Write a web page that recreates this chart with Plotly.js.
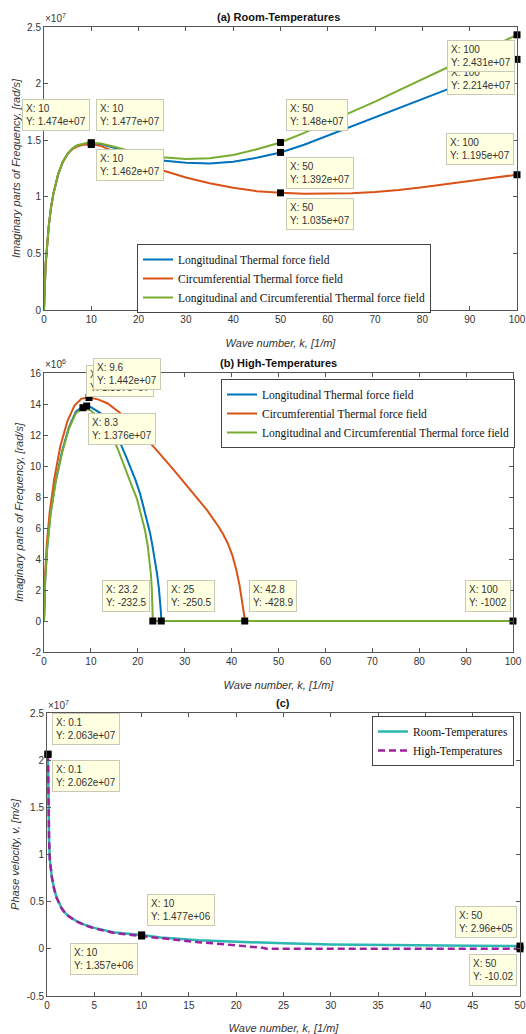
<!DOCTYPE html>
<html><head><meta charset="utf-8">
<script src="https://cdn.plot.ly/plotly-3.0.1.min.js"></script>
<style>html,body{margin:0;padding:0;background:#fff}</style>
</head><body><div id="chart" style="width:526px;height:1034px"></div>
<script>
// ---------- DATA ----------
// Panel (a) Room-Temperatures: imaginary part of frequency, in units of 1e7 rad/s
const kA = [0,0.1,0.2,0.35,0.5,0.7,1,1.5,2,3,4,5,6,7,8,9,10,12,15,20,25,30,35,40,45,50,55,60,65,70,75,80,85,90,95,100];
const roomLong = [0,0.16,0.28,0.41,0.48,0.62,0.74,0.91,1.03,1.2,1.31,1.38,1.425,1.45,1.462,1.470,1.474,1.465,1.43,1.365,1.32,1.30,1.295,1.31,1.345,1.392,1.46,1.54,1.62,1.70,1.78,1.86,1.945,2.03,2.12,2.214];
const roomCirc = [0,0.16,0.28,0.41,0.48,0.62,0.74,0.91,1.03,1.2,1.31,1.38,1.42,1.445,1.458,1.463,1.462,1.45,1.40,1.31,1.235,1.17,1.12,1.08,1.05,1.035,1.028,1.027,1.032,1.042,1.06,1.085,1.11,1.14,1.168,1.195];
const roomBoth = [0,0.16,0.28,0.41,0.48,0.62,0.74,0.91,1.03,1.2,1.31,1.38,1.428,1.455,1.468,1.475,1.477,1.47,1.44,1.385,1.35,1.335,1.34,1.37,1.42,1.48,1.565,1.655,1.745,1.84,1.94,2.04,2.14,2.235,2.33,2.431];

// Panel (b) High-Temperatures: imaginary part of frequency, in units of 1e6 rad/s
const kHighLong = [0,0.1,0.28,0.7,1.4,2.5,3.9,5.3,6.8,8.3,9.1,10,12.1,14,16.3,17.5,18.5,19.5,20.5,21.3,22,22.6,23.1,23.6,24.1,24.5,24.8,24.95,25,30,40,50,60,70,80,90,100];
const highLong  = [0,1.8,2.85,4.8,6.95,9.05,11.0,12.5,13.5,13.84,13.87,13.8,13.4,12.6,11.46,10.6,9.9,9.1,8.2,7.3,6.5,5.7,4.9,4.05,3.05,2.1,1.2,0.5,-0.00025,0,0,0,0,0,0,0,-0.001];
const kHighCirc = [0,0.1,0.25,0.6,1.2,2.2,3.5,5,6.5,8,9.6,11.5,13.5,16.3,19.9,23.5,27.7,29.5,31.3,33,34.8,36,37.2,38.2,39.2,40.2,41,41.7,42.2,42.55,42.75,42.8,50,60,70,80,90,100];
const highCirc  = [0,2.0,3.0,5.0,7.0,9.2,11.3,12.9,13.9,14.35,14.42,14.3,14.05,13.4,12.3,11.2,9.73,9.1,8.43,7.8,7.14,6.65,6.1,5.6,5.0,4.2,3.3,2.3,1.4,0.7,0.25,-0.00043,0,0,0,0,0,-0.001];
const kHighBoth = [0,0.1,0.28,0.7,1.4,2.5,3.9,5.3,6.8,8.3,10,11.4,13,14.5,15.6,17.2,18.5,19.8,20.7,21.5,22.1,22.5,22.8,23.0,23.12,23.2,25,30,40,50,60,70,80,90,100];
const highBoth  = [0,1.8,2.8,4.76,6.9,9.0,10.9,12.4,13.4,13.76,13.57,13.2,12.5,11.8,11.2,10.0,8.9,7.9,6.9,5.9,4.9,4.0,3.0,2.0,1.1,-0.00023,0,0,0,0,0,0,0,0,-0.001];

// Panel (c) phase velocity, in units of 1e7 m/s
const kRoomV = [0.1,0.13,0.17,0.22,0.3,0.4,0.5,0.75,1,1.5,2,3,4,5,6,7,8,9,10,12,14,16,18,20,25,30,35,40,45,50];
const velRoom = [2.063,1.75,1.45,1.15,0.95,0.84,0.77,0.64,0.55,0.44,0.37,0.3,0.255,0.222,0.195,0.176,0.164,0.155,0.1477,0.12,0.103,0.09,0.082,0.074,0.058,0.047,0.04,0.035,0.032,0.0296];
const kHighV = [0.1,0.13,0.17,0.22,0.3,0.4,0.5,0.75,1,1.5,2,3,4,5,6,7,8,9,10,12,14,16,18,20,21,22,22.8,23.2,25,30,35,40,45,50];
const velHigh = [2.062,1.74,1.44,1.14,0.945,0.835,0.765,0.635,0.545,0.435,0.365,0.296,0.25,0.217,0.19,0.17,0.157,0.146,0.1357,0.112,0.09,0.07,0.055,0.039,0.031,0.022,0.011,0,0,0,0,0,0,-0.000001];

// Data tips
const tipAx = [10,10,10,50,50,50,100,100,100];
const tipAy = [1.474,1.477,1.462,1.48,1.392,1.035,2.214,2.431,1.195];
const tipAlabels = ['X: 10<br>Y: 1.474e+07','X: 10<br>Y: 1.477e+07','X: 10<br>Y: 1.462e+07','X: 50<br>Y: 1.48e+07','X: 50<br>Y: 1.392e+07','X: 50<br>Y: 1.035e+07','X: 100<br>Y: 2.214e+07','X: 100<br>Y: 2.431e+07','X: 100<br>Y: 1.195e+07'];
const tipBx = [9.1,9.6,8.3,23.2,25,42.8,100];
const tipBy = [13.87,14.42,13.76,-0.00023,-0.00025,-0.00043,-0.001];
const tipBlabels = ['X: 9.1<br>Y: 1.387e+07','X: 9.6<br>Y: 1.442e+07','X: 8.3<br>Y: 1.376e+07','X: 23.2<br>Y: -232.5','X: 25<br>Y: -250.5','X: 42.8<br>Y: -428.9','X: 100<br>Y: -1002'];
const tipCx = [0.1,0.1,10,10,50,50];
const tipCy = [2.063,2.062,0.1477,0.1357,0.0296,-0.000001];
const tipClabels = ['X: 0.1<br>Y: 2.063e+07','X: 0.1<br>Y: 2.062e+07','X: 10<br>Y: 1.477e+06','X: 10<br>Y: 1.357e+06','X: 50<br>Y: 2.96e+05','X: 50<br>Y: -10.02'];

const seriesNames = ['Longitudinal Thermal force field','Circumferential Thermal force field','Longitudinal and Circumferential Thermal force field'];
const velNames = ['Room-Temperatures','High-Temperatures'];
const ticksA_x = [0,10,20,30,40,50,60,70,80,90,100];
const ticksA_y = [0,0.5,1,1.5,2,2.5];
const ticksA_yText = ['0','0.5','1','1.5','2','2.5'];
const ticksB_y = [-2,0,2,4,6,8,10,12,14,16];
const ticksB_yText = ['-2','0','2','4','6','8','10','12','14','16'];
const ticksC_x = [0,5,10,15,20,25,30,35,40,45,50];
const ticksC_y = [-0.5,0,0.5,1,1.5,2,2.5];
const ticksC_yText = ['-0.5','0','0.5','1','1.5','2','2.5'];

// ---------- STYLE / LAYOUT ----------
const W = 526, H = 1034;
const C_BLUE = '#0072BD', C_ORANGE = '#D95319', C_GREEN = '#77AC30';
const C_CYAN = '#2CB7B2', C_MAG = '#A0209F';
const px = v => v / W, py = v => 1 - v / H;

const traces = [];
function line(x, y, color, name, xa, ya, leg, extra) {
  traces.push(Object.assign({type:'scatter', mode:'lines', x:x, y:y, name:name, xaxis:xa, yaxis:ya,
    line:{color:color, width:2}, legend:leg, hoverinfo:'skip'}, extra||{}));
}
line(kA, roomLong, C_BLUE, seriesNames[0], 'x', 'y', 'legend');
line(kA, roomCirc, C_ORANGE, seriesNames[1], 'x', 'y', 'legend');
line(kA, roomBoth, C_GREEN, seriesNames[2], 'x', 'y', 'legend');
line(kHighLong, highLong, C_BLUE, seriesNames[0], 'x2', 'y2', 'legend2');
line(kHighCirc, highCirc, C_ORANGE, seriesNames[1], 'x2', 'y2', 'legend2');
line(kHighBoth, highBoth, C_GREEN, seriesNames[2], 'x2', 'y2', 'legend2');
line(kRoomV, velRoom, C_CYAN, velNames[0], 'x3', 'y3', 'legend3', {line:{color:C_CYAN, width:2.5}});
line(kHighV, velHigh, C_MAG, velNames[1], 'x3', 'y3', 'legend3', {line:{color:C_MAG, width:2.5, dash:'7px,4px'}});

function markers(x, y, xa, ya) {
  traces.push({type:'scatter', mode:'markers', x:x, y:y, xaxis:xa, yaxis:ya, showlegend:false,
    cliponaxis:false, hoverinfo:'skip',
    marker:{symbol:'square', size:7, color:'#000', line:{width:0}}});
}
markers(tipAx, tipAy, 'x', 'y');
markers(tipBx, tipBy, 'x2', 'y2');
markers(tipCx, tipCy, 'x3', 'y3');

const tickFont = {family:'Liberation Sans, Arial, sans-serif', size:10, color:'#333'};
const titleFont = {family:'Liberation Sans, Arial, sans-serif', size:11, color:'#333', style:'italic'};
function axis(extra) {
  return Object.assign({showline:true, mirror:'ticks', ticks:'inside', ticklen:4, tickwidth:1,
    linecolor:'#555', tickcolor:'#555', linewidth:1, showgrid:false, zeroline:false,
    tickfont:tickFont, automargin:false, fixedrange:true}, extra);
}
const xTitle = {text:'Wave number, k, [1/m]', font:titleFont, standoff:15};
const yTitleF = {text:'Imaginary parts of Frequency, [rad/s]', font:titleFont, standoff:4};

const annotations = [];
function text(t, x, y, opts) {
  annotations.push(Object.assign({text:t, xref:'paper', yref:'paper', x:px(x), y:py(y),
    showarrow:false, xanchor:'center', yanchor:'middle',
    font:{family:'Liberation Sans, Arial, sans-serif', size:11, color:'#111', weight:'bold'}}, opts||{}));
}
text('(a) Room-Temperatures', 278, 17);
text('(b) High-Temperatures', 278, 363);
text('(c)', 283, 703);
const expFont = {family:'Liberation Sans, Arial, sans-serif', size:10, color:'#333'};
text('×10<sup>7</sup>', 43, 18, {xanchor:'left', font:expFont});
text('×10<sup>6</sup>', 43, 364, {xanchor:'left', font:expFont});
text('×10<sup>7</sup>', 46, 705, {xanchor:'left', font:expFont});

// tip boxes: [left, top]
const boxA = [[22,99],[96,99],[96,149],[286,99],[286,157],[286,198],[447,63],[447,40],[446,133]];
const boxB = [[86,365],[93,358],[88,413],[102,580],[167,580],[249,580],[465,580]];
const boxC = [[52,713],[52,760],[147,894],[70,943],[455,906],[469,954]];
function tips(labels, boxes) {
  labels.forEach((t, i) => {
    const b = boxes[i];
    annotations.push({text:t, xref:'paper', yref:'paper', x:px(b[0]), y:py(b[1]),
      xanchor:'left', yanchor:'top', showarrow:false, align:'left',
      borderpad:3, borderwidth:1, bgcolor:'#ffffe1', bordercolor:'#c9c9b8',
      font:{family:'Liberation Sans, Arial, sans-serif', size:10, color:'#333'}});
  });
}
tips(tipAlabels, boxA);
tips(tipBlabels, boxB);
tips(tipClabels, boxC);

const legFont = {family:'Liberation Serif, Times New Roman, serif', size:11.5, color:'#111'};
const legBase = {xref:'paper', yref:'paper', xanchor:'left', yanchor:'top', bgcolor:'#fff',
  bordercolor:'#444', borderwidth:1, font:legFont, tracegroupgap:0, itemwidth:30};

const layout = {
  width:W, height:H, margin:{l:0, r:0, t:0, b:0}, paper_bgcolor:'#fff', plot_bgcolor:'#fff',
  showlegend:true,
  xaxis: axis({domain:[px(44), px(517)], anchor:'y', range:[0,100], tickvals:ticksA_x, title:xTitle}),
  yaxis: axis({domain:[py(310), py(27)], anchor:'x', range:[0,2.5], tickvals:ticksA_y, ticktext:ticksA_yText, title:yTitleF}),
  xaxis2: axis({domain:[px(44), px(513)], anchor:'y2', range:[0,100], tickvals:ticksA_x, title:xTitle}),
  yaxis2: axis({domain:[py(652), py(373)], anchor:'x2', range:[-2,16], tickvals:ticksB_y, ticktext:ticksB_yText, title:yTitleF}),
  xaxis3: axis({domain:[px(47), px(520)], anchor:'y3', range:[0,50], tickvals:ticksC_x, title:xTitle}),
  yaxis3: axis({domain:[py(996), py(713)], anchor:'x3', range:[-0.5,2.5], tickvals:ticksC_y, ticktext:ticksC_yText,
    title:{text:'Phase velocity, v, [m/s]', font:titleFont, standoff:4}}),
  legend: Object.assign({}, legBase, {x:px(137), y:py(244)}),
  legend2: Object.assign({}, legBase, {x:px(221), y:py(379)}),
  legend3: Object.assign({}, legBase, {x:px(372), y:py(716)}),
  annotations: annotations
};
Plotly.newPlot('chart', traces, layout, {staticPlot:true, displayModeBar:false});
</script></body></html>
